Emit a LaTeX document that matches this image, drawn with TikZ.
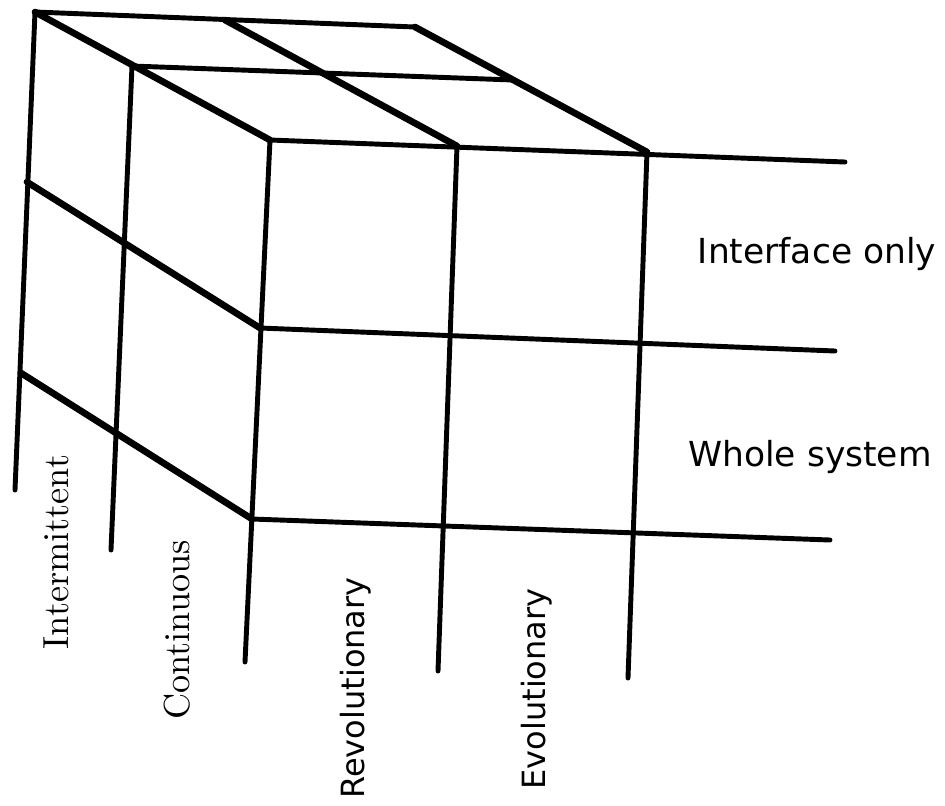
\documentclass[tikz,border=0pt]{standalone}
\usepackage{fontspec}
\newfontfamily\plotfont{DejaVu Sans}
\tikzset{
	edge/.style={line width=1.4pt, line cap=round, line join=round},
	slant/.style={line width=1.9pt, line cap=round, line join=round},
	sidelabel/.style={rotate=90, inner sep=0pt, font=\fontsize{10.3}{12}\selectfont},
	axislabel/.style={rotate=90, inner sep=0pt, font=\plotfont\fontsize{9.1}{11}\selectfont},
	rowlabel/.style={inner sep=0pt, font=\plotfont\fontsize{9.8}{12}\selectfont}
}

\begin{document}
\begin{tikzpicture}[x=0.01cm, y=-0.01cm]
		%%%%% START %%%%%
		\useasboundingbox (0, 0) rectangle (945, 805);
		
		% top face corners
		\coordinate (backL) at (35, 12);
		\coordinate (backM) at (225, 20);
		\coordinate (backR) at (415, 27);
		\coordinate (sideM) at (132, 66);
		\coordinate (sideR) at (513, 80);
		\coordinate (frontL) at (270, 140);
		\coordinate (frontM) at (457, 146);
		\coordinate (frontR) at (647, 152);
		
		% front face rows
		\coordinate (midL) at (260, 328);
		\coordinate (lowL) at (252, 519);
		\coordinate (topEnd) at (845, 162);
		\coordinate (midEnd) at (835, 351);
		\coordinate (lowEnd) at (830, 540);
		
		% side face rows
		\coordinate (sideMidL) at (27, 182);
		\coordinate (sideLowL) at (21, 373);
		
		% feet of the uprights
		\coordinate (footA) at (15, 490);
		\coordinate (footB) at (111, 550);
		\coordinate (footC) at (245, 662);
		\coordinate (footD) at (438, 671);
		\coordinate (footE) at (628, 678);
		
		% top face
		\draw[edge] (backL) -- (backR);
		\draw[edge] (sideM) -- (sideR);
		\draw[slant] (backL) -- (frontL);
		\draw[slant] (backM) -- (frontM);
		\draw[slant] (backR) -- (frontR);
		
		% front face
		\draw[edge] (frontL) -- (topEnd);
		\draw[edge] (midL) -- (midEnd);
		\draw[edge] (lowL) -- (lowEnd);
		\draw[edge] (frontL) -- (footC);
		\draw[edge] (frontM) -- (footD);
		\draw[edge] (frontR) -- (footE);
		
		% side face
		\draw[edge] (backL) -- (footA);
		\draw[edge] (sideM) -- (footB);
		\draw[slant] (sideMidL) -- (midL);
		\draw[slant] (sideLowL) -- (lowL);
		
		% labels
		\node[sidelabel] (intermittent) at (56, 552) {Intermittent};
		\node[sidelabel] (continuous) at (177, 630) {Continuous};
		\node[axislabel] (revolutionary) at (356, 688) {Revolutionary};
		\node[axislabel] (evolutionary) at (537, 689) {Evolutionary};
		\node[rowlabel] (interface) at (817, 254) {Interface only};
		\node[rowlabel] (whole) at (810, 457) {Whole system};
		
		%%%%% END %%%%%
\end{tikzpicture}
\end{document}
